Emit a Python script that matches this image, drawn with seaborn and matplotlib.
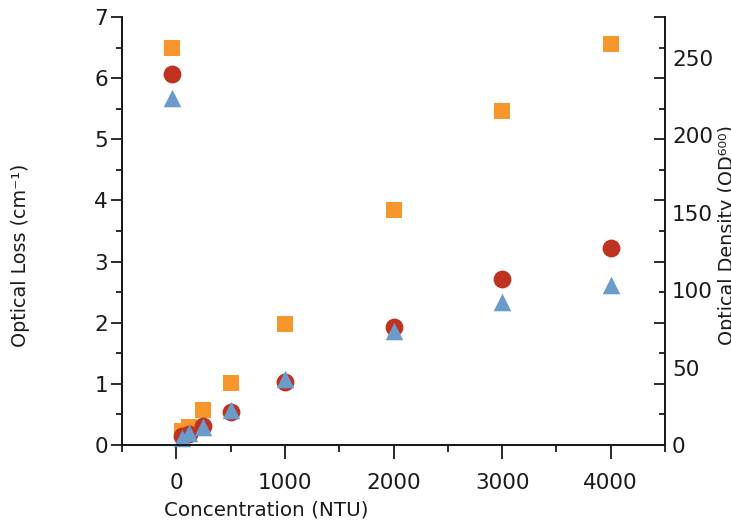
import matplotlib
matplotlib.use("Agg")
import matplotlib.pyplot as plt
from matplotlib.ticker import MultipleLocator
import seaborn as sns
import pandas as pd

# Turbidity standards (NTU) and measured responses
concentration = [-40, 50, 120, 250, 500, 1000, 2000, 3000, 4000]
od600 = [256.5, 9, 11.6, 22.6, 40, 78, 152, 216, 259]          # right axis
loss_red = [6.07, 0.15, 0.18, 0.31, 0.54, 1.03, 1.93, 2.72, 3.22]  # left axis
loss_blue = [5.68, 0.11, 0.20, 0.30, 0.57, 1.08, 1.86, 2.34, 2.62]  # left axis

x_ticks = [0, 1000, 2000, 3000, 4000]
left_ticks = [0, 1, 2, 3, 4, 5, 6, 7]
right_ticks = [0, 50, 100, 150, 200, 250]

ORANGE = "#F7962B"
RED = "#BE3220"
BLUE = "#6A9BCB"
INK = "#1a1a1a"

df = pd.DataFrame({
    "conc": concentration,
    "od": od600,
    "red": loss_red,
    "blue": loss_blue,
})

sns.set_theme(style="white")
plt.rcParams["font.family"] = ["DejaVu Sans"]

fig = plt.figure(figsize=(7.31, 5.21), dpi=100)
ax = fig.add_axes([122 / 731, 1 - 445 / 521, (665 - 122) / 731, (445 - 17) / 521])
ax_od = ax.twinx()      # optical density scale (labels only)
ax_mirror = ax.twinx()  # inward tick marks on the right spine

# squares sit underneath the loss markers
ax.set_zorder(ax_od.get_zorder() + 1)
ax.patch.set_visible(False)
ax_od.patch.set_visible(True)
ax_od.patch.set_facecolor("white")
ax_mirror.set_zorder(ax.get_zorder() + 1)

sns.scatterplot(data=df, x="conc", y="od", ax=ax_od, marker="s", s=125,
                color=ORANGE, linewidth=0, legend=False, clip_on=False)
sns.scatterplot(data=df, x="conc", y="red", ax=ax, marker="o", s=165,
                color=RED, linewidth=0, legend=False, clip_on=False)
sns.scatterplot(data=df, x="conc", y="blue", ax=ax, marker="^", s=160,
                color=BLUE, linewidth=0, legend=False, clip_on=False)

ax.set_xlim(-500, 4500)
ax.set_ylim(0, 7)
ax_od.set_ylim(0, 276.5)
ax_mirror.set_ylim(0, 7)

ax.set_xticks(x_ticks)
ax.xaxis.set_minor_locator(MultipleLocator(500))
ax.set_yticks(left_ticks)
ax.yaxis.set_minor_locator(MultipleLocator(0.5))
ax_od.set_yticks(right_ticks)
ax_mirror.set_yticks(left_ticks)
ax_mirror.yaxis.set_minor_locator(MultipleLocator(0.5))

fs = 15.5
ax.tick_params(axis="x", which="major", direction="out", length=10, width=1.3,
               color=INK, labelsize=fs, labelcolor=INK, pad=10, bottom=True)
ax.tick_params(axis="x", which="minor", direction="out", length=5, width=1.3,
               color=INK, bottom=True)
ax.tick_params(axis="y", which="major", direction="out", length=8, width=1.3,
               color=INK, labelsize=fs, labelcolor=INK, pad=2, left=True, right=False)
ax.tick_params(axis="y", which="minor", direction="out", length=4, width=1.3,
               color=INK, left=True, right=False)
ax_od.tick_params(axis="y", which="both", length=0, labelsize=fs,
                  labelcolor=INK, pad=5, right=True)
ax_mirror.tick_params(axis="y", which="major", direction="in", length=8, width=1.3,
                      color=INK, right=True, labelright=False)
ax_mirror.tick_params(axis="y", which="minor", direction="in", length=4, width=1.3,
                      color=INK, right=True)

for a in (ax, ax_od, ax_mirror):
    for side, sp in a.spines.items():
        sp.set_visible(side in ("left", "bottom", "right"))
        sp.set_color(INK)
        sp.set_linewidth(1.3)

ax.set_xlabel("Concentration (NTU)", fontsize=14.3, color=INK)
ax.xaxis.set_label_coords((266 - 122) / (665 - 122), -(510 - 445) / (445 - 17))
ax.xaxis.label.set_va("center")

ax.set_ylabel("Optical Loss (cm\u207b\u00b9)", fontsize=13.8, color=INK)
ax.yaxis.set_label_coords(-(122 - 20) / (665 - 122), (445 - 255) / (445 - 17))
ax.yaxis.label.set_va("center")

ax_od.set_ylabel("Optical Density (OD\u2076\u2070\u2070)", fontsize=13.8, color=INK,
                 rotation=90)
ax_od.yaxis.set_label_position("right")
ax_od.yaxis.set_label_coords((728 - 122) / (665 - 122), (445 - 235) / (445 - 17))
ax_od.yaxis.label.set_va("center")

fig.savefig("out.png", dpi=100)
